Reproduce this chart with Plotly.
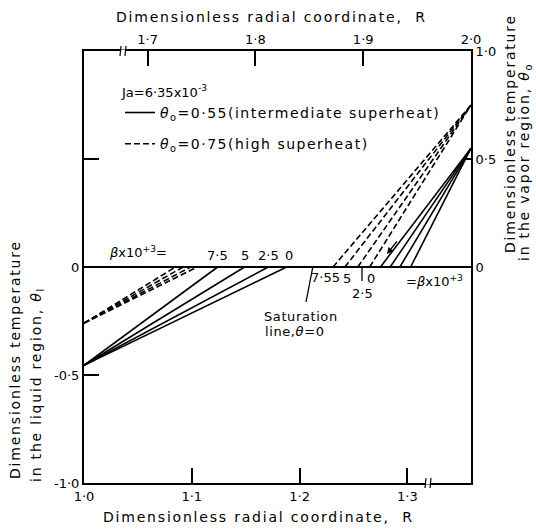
import plotly.graph_objects as go

# ---------------- data ----------------
beta = [0, 2.5, 5, 7.5]                     # beta x 10^3
# liquid region (bottom / left axes)
R_wall = 1.0
theta_wall_solid = -0.455                   # theta_o = 0.55
theta_wall_dashed = -0.26                   # theta_o = 0.75
R_int_liq_solid = [1.188, 1.171, 1.149, 1.124]
R_int_liq_dashed = [1.105, 1.099, 1.092, 1.085]
# vapor region (top / right axes)
R_outer = 2.0
theta_o_solid = 0.55
theta_o_dashed = 0.75
R_int_vap_solid = [1.944, 1.934, 1.925, 1.916]
R_int_vap_dashed = [1.906, 1.895, 1.883, 1.872]
# saturation line
R_sat = [1.0, 1.359]
theta_sat = [0, 0]

bot_ticks = [1.0, 1.1, 1.2, 1.3]
bot_text = ["1·0", "1·1", "1·2", "1·3"]
top_ticks = [1.7, 1.8, 1.9, 2.0]
top_text = ["1·7", "1·8", "1·9", "2·0"]
left_ticks = [-1.0, -0.5, 0, 0.5]
left_text = ["-1·0", "-0·5", "0", ""]
right_ticks = [0, 0.5, 1.0]
right_text = ["0", "0·5", "1·0"]

FONT = "DejaVu Sans"
W, H = 536, 529
L, R, T, B = 84, 65, 51, 46


def px(x):
    return (x - L) / (W - L - R)


def py(y):
    return (H - B - y) / (H - T - B)


def sp(s, ls):
    return f'<span style="letter-spacing:{ls}px">{s}</span>'


fig = go.Figure()

# saturation line
fig.add_trace(go.Scatter(x=R_sat, y=theta_sat, mode="lines",
                         line=dict(color="black", width=2), showlegend=False,
                         xaxis="x", yaxis="y"))

# liquid region lines
for i, b in enumerate(beta):
    fig.add_trace(go.Scatter(x=[R_wall, R_int_liq_solid[i]], y=[theta_wall_solid, 0],
                             mode="lines", line=dict(color="black", width=1.6),
                             showlegend=False, xaxis="x", yaxis="y"))
    fig.add_trace(go.Scatter(x=[R_wall, R_int_liq_dashed[i]], y=[theta_wall_dashed, 0],
                             mode="lines", line=dict(color="black", width=1.6, dash="6px,3px"),
                             showlegend=False, xaxis="x", yaxis="y"))

# vapor region lines
for i, b in enumerate(beta):
    fig.add_trace(go.Scatter(x=[R_int_vap_solid[i], R_outer], y=[0, theta_o_solid],
                             mode="lines", line=dict(color="black", width=1.6),
                             name=sp("<i>θ</i><sub>o</sub>=0·55(intermediate superheat)", 1.5),
                             legendgroup="a", showlegend=(i == 0),
                             xaxis="x2", yaxis="y2"))
for i, b in enumerate(beta):
    fig.add_trace(go.Scatter(x=[R_int_vap_dashed[i], R_outer], y=[0, theta_o_dashed],
                             mode="lines", line=dict(color="black", width=1.6, dash="6px,3px"),
                             name=sp("<i>θ</i><sub>o</sub>=0·75(high superheat)", 1.5),
                             legendgroup="b", showlegend=(i == 0),
                             xaxis="x2", yaxis="y2"))

axis_common = dict(showline=True, linecolor="black", linewidth=2, ticks="inside",
                   tickcolor="black", tickwidth=1.5, showgrid=False, zeroline=False,
                   tickfont=dict(family=FONT, size=13, color="black"))

fig.update_layout(
    width=W, height=H,
    margin=dict(l=L, r=R, t=T, b=B),
    paper_bgcolor="white", plot_bgcolor="white",
    font=dict(family=FONT, size=13, color="black"),
    xaxis=dict(range=[1.0, 1.359], tickvals=bot_ticks, ticktext=bot_text, ticklen=15,
               **axis_common),
    xaxis2=dict(range=[1.641, 2.0], tickvals=top_ticks, ticktext=top_text, ticklen=15,
                overlaying="x", side="top", **axis_common),
    yaxis=dict(range=[-1.0, 1.0], tickvals=left_ticks, ticktext=left_text, ticklen=15,
               **axis_common),
    yaxis2=dict(range=[-1.0, 1.0], tickvals=right_ticks, ticktext=right_text, ticklen=7,
                overlaying="y", side="right", **axis_common),
    legend=dict(x=px(120), y=py(80), xanchor="left", yanchor="top",
                bgcolor="rgba(0,0,0,0)", borderwidth=0,
                title=dict(text="Ja=6·35x10<sup>-3</sup>", font=dict(family=FONT, size=13)),
                font=dict(family=FONT, size=14), tracegroupgap=10,
                itemwidth=30),
    showlegend=True,
)

ann = []


def text(x, y, s, size=13, angle=0, xanchor="center"):
    ann.append(dict(x=px(x), y=py(y), xref="paper", yref="paper", text=s,
                    showarrow=False, textangle=angle, xanchor=xanchor, yanchor="middle",
                    font=dict(family=FONT, size=size, color="black")))


# axis titles
text(271, 17, sp("Dimensionless radial coordinate,  R", 1.8), 14)
text(258, 517, sp("Dimensionless radial coordinate,  R", 1.8), 14)
text(15, 360, sp("Dimensionless temperature", 1.8), 14, -90)
text(37, 385, sp("in the liquid region, <i>θ</i><sub>l</sub>", 1.8), 14, -90)
text(510, 134, sp("Dimensionless temperature", 1.8), 14, -90)
text(525, 162, sp("in the vapor region, <i>θ</i><sub>o</sub>", 1.8), 14, -90)

# beta labels
text(138, 252, "<i>β</i>x10<sup>+3</sup>=")
text(217, 255, "7·5")
text(245, 255, "5")
text(268, 255, "2·5")
text(289, 255, "0")
text(325, 277, "7·55")
text(347, 278, "5")
text(371, 278, "0")
text(362, 293, "2·5")
text(434, 281, "=<i>β</i>x10<sup>+3</sup>")
text(301, 316, sp("Saturation", 0.6))
text(295, 331, sp("line,<i>θ</i>=0", 0.6))

# small arrow on a vapor-region line
ann.append(dict(x=px(387), y=py(254), xref="paper", yref="paper", text="",
                showarrow=True, arrowhead=2, arrowsize=1, arrowwidth=1.3,
                arrowcolor="black", ax=11, ay=-14))

fig.update_layout(annotations=ann)

shapes = []


def seg(x0, y0, x1, y1, w=1.3, c="black"):
    shapes.append(dict(type="line", xref="paper", yref="paper",
                       x0=px(x0), y0=py(y0), x1=px(x1), y1=py(y1),
                       line=dict(color=c, width=w)))


seg(306, 302, 313, 266)      # saturation leader
seg(362, 266, 362, 281)      # 2.5 leader
# axis breaks
for cx, cy in [(428, 483), (123, 51)]:
    seg(cx - 2, cy, cx + 2, cy, w=3, c="white")
    seg(cx - 3, cy + 5, cx - 2, cy - 5, w=1.2)
    seg(cx + 2, cy + 5, cx + 3, cy - 5, w=1.2)

fig.update_layout(shapes=shapes)

fig.write_html("out.html")
